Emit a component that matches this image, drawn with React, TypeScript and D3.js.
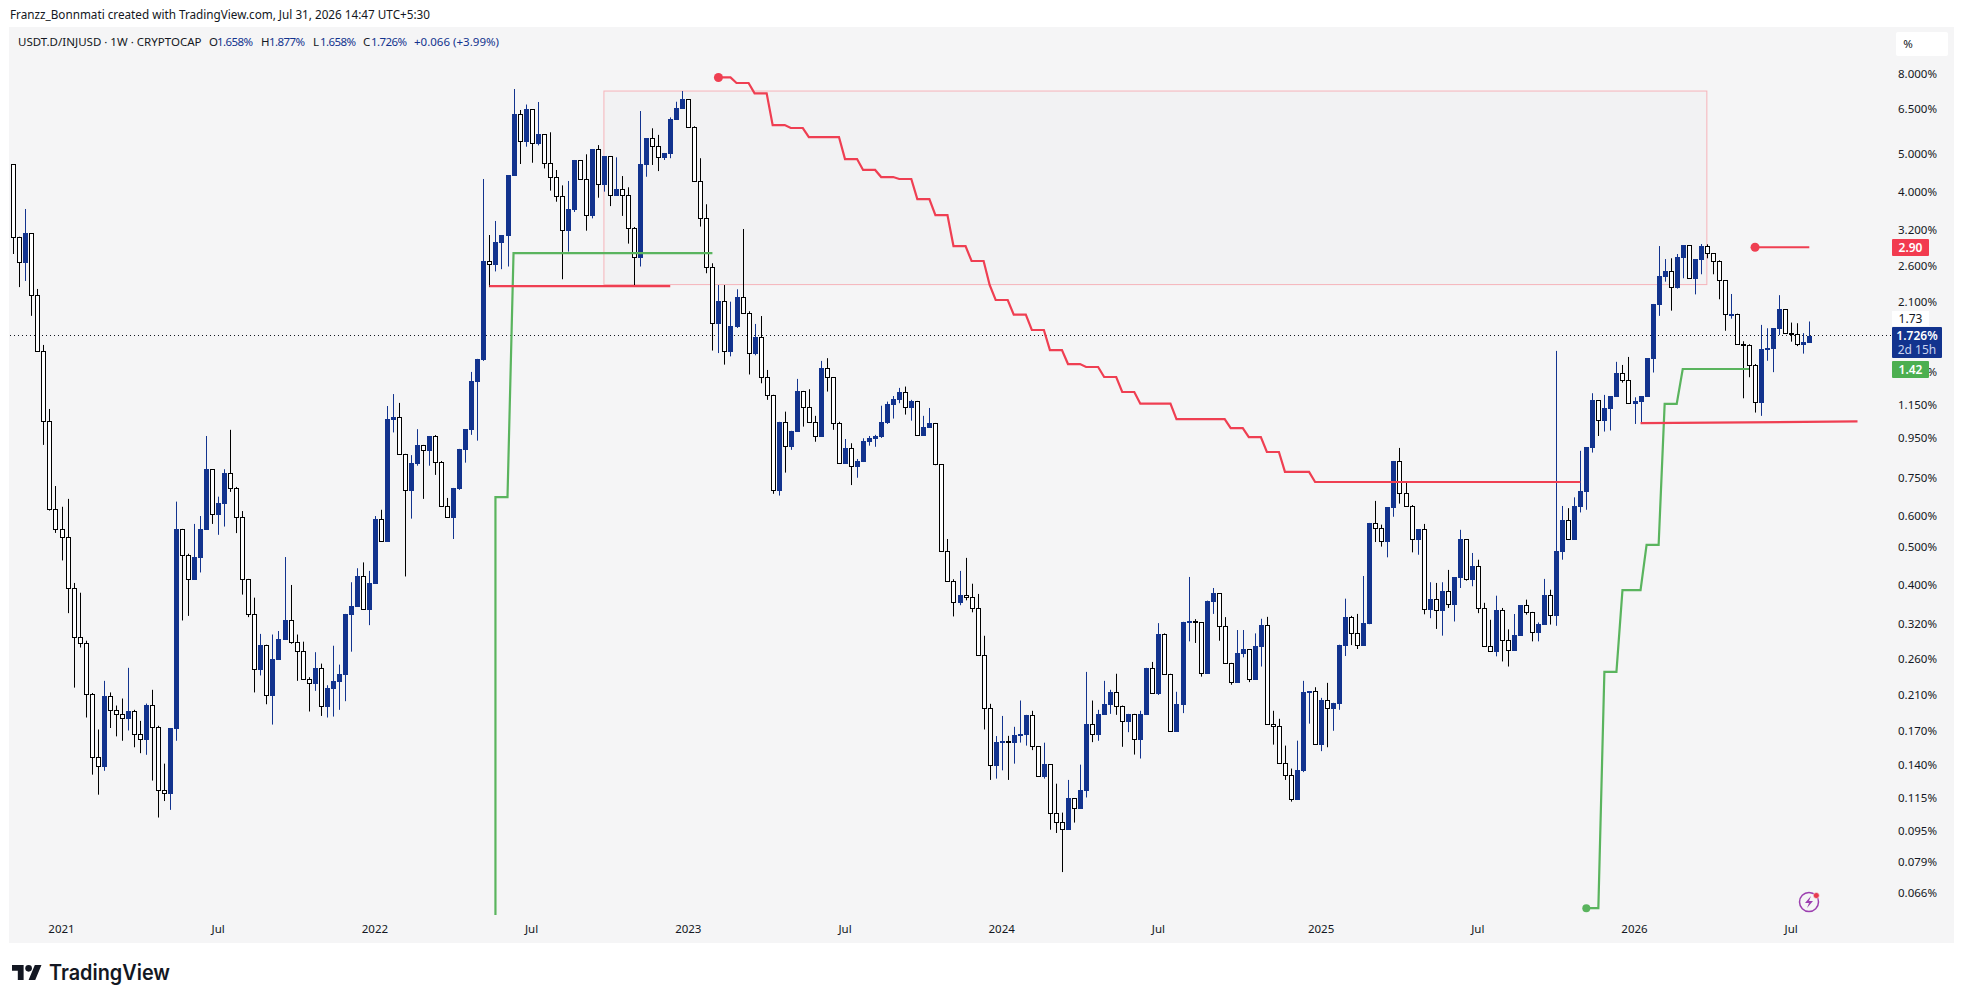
import * as d3 from "d3";

const WIDTH = 1963;
const HEIGHT = 1003;

// weekly candles, values in %
const firstOpen = 4.722;
const closes = [
  3.083, 2.664, 3.147, 2.193, 1.577, 1.047, 0.626, 0.557, 0.532, 0.394,
  0.2955, 0.286, 0.2116, 0.1463, 0.1386, 0.2098, 0.1926, 0.1882, 0.1838, 0.1919,
  0.1677, 0.1627, 0.1991, 0.175, 0.1206, 0.1187, 0.173, 0.557, 0.4787, 0.416,
  0.4723, 0.556, 0.7916, 0.606, 0.647, 0.7745, 0.707, 0.596, 0.4147, 0.3377,
  0.245, 0.282, 0.2106, 0.26, 0.2922, 0.3263, 0.2863, 0.272, 0.2309, 0.2264,
  0.2464, 0.197, 0.2192, 0.2283, 0.2379, 0.3383, 0.3545, 0.4219, 0.3484, 0.405,
  0.5894, 0.52, 1.059, 1.07, 0.8645, 0.6988, 0.818, 0.909, 0.883, 0.958,
  0.823, 0.638, 0.598, 0.707, 0.89, 0.999, 1.323, 1.505, 2.671, 2.633,
  2.991, 3.115, 4.427, 6.329, 5.394, 6.505, 5.332, 5.629, 4.757, 4.382,
  3.907, 3.202, 3.621, 4.834, 4.317, 3.496, 5.156, 4.193, 4.948, 3.93,
  4.071, 3.944, 3.24, 2.733, 4.713, 5.489, 5.254, 4.926, 5.037, 6.135,
  6.554, 6.91, 5.873, 4.283, 3.447, 2.586, 1.858, 2.113, 1.583, 1.827,
  2.162, 1.976, 1.559, 1.714, 1.354, 1.218, 0.6988, 1.041, 0.904, 0.9875,
  1.248, 1.136, 1.041, 0.962, 1.429, 1.354, 1.038, 0.818, 0.895, 0.804,
  0.828, 0.931, 0.949, 0.958, 1.041, 1.156, 1.193, 1.24, 1.139, 1.177,
  0.964, 1.011, 1.035, 0.813, 0.49, 0.41, 0.363, 0.378, 0.373, 0.3505,
  0.2655, 0.1945, 0.1397, 0.1599, 0.1608, 0.16, 0.1664, 0.1677, 0.1869, 0.1561,
  0.1308, 0.1405, 0.1052, 0.09995, 0.096, 0.115, 0.1085, 0.1206, 0.178, 0.1677,
  0.1882, 0.1999, 0.2145, 0.1975, 0.1806, 0.1882, 0.1627, 0.1885, 0.2468, 0.213,
  0.3011, 0.2379, 0.1707, 0.1999, 0.3232, 0.3245, 0.3219, 0.2388, 0.3659, 0.3832,
  0.3157, 0.2541, 0.2277, 0.2688, 0.2751, 0.2317, 0.2804, 0.3163, 0.1777, 0.1753,
  0.1417, 0.1315, 0.1144, 0.136, 0.2145, 0.2149, 0.158, 0.205, 0.1945, 0.2011,
  0.2826, 0.3327, 0.3032, 0.2816, 0.3213, 0.5768, 0.5614, 0.52, 0.6328, 0.8292,
  0.6889, 0.638, 0.5241, 0.556, 0.3476, 0.3695, 0.3463, 0.3871, 0.3588, 0.4195,
  0.525, 0.416, 0.4482, 0.3505, 0.2797, 0.272, 0.3463, 0.2902, 0.2735, 0.2988,
  0.3566, 0.3425, 0.304, 0.3187, 0.3787, 0.3362, 0.49, 0.587, 0.526, 0.637,
  0.696, 0.899, 1.186, 1.055, 1.131, 1.213, 1.386, 1.33, 1.167, 1.179,
  1.213, 1.514, 2.08, 2.45, 2.523, 2.293, 2.733, 2.933, 2.418, 2.702,
  2.925, 2.8, 2.671, 2.39, 1.958, 1.965, 1.643, 1.639, 1.453, 1.17,
  1.595, 1.607, 1.804, 2.016, 1.757, 1.741, 1.643, 1.663, 1.726,
];
const highs = [
  4.722, 3.083, 3.628, 3.147, 2.271, 1.636, 1.1245, 0.716, 0.634, 0.664,
  0.4058, 0.3832, 0.2893, 0.213, 0.172, 0.2287, 0.2137, 0.1979, 0.2062, 0.2468,
  0.193, 0.1809, 0.2002, 0.217, 0.1758, 0.1408, 0.173, 0.6535, 0.557, 0.4816,
  0.5734, 0.6006, 0.9598, 0.787, 0.6727, 0.79, 0.995, 0.7122, 0.6183, 0.4155,
  0.3723, 0.3011, 0.2826, 0.3, 0.3062, 0.4723, 0.401, 0.3, 0.2877, 0.2336,
  0.2705, 0.253, 0.2229, 0.2809, 0.2515, 0.3385, 0.4075, 0.4423, 0.4577, 0.4355,
  0.6006, 0.623, 1.144, 1.227, 1.165, 0.8645, 0.858, 0.999, 0.911, 0.9598,
  0.965, 0.829, 0.6677, 0.708, 0.89, 0.999, 1.397, 1.508, 4.325, 3.115,
  3.382, 3.115, 4.427, 7.327, 6.479, 6.69, 6.505, 6.79, 5.62, 5.686,
  4.559, 4.166, 4.275, 4.834, 4.826, 4.998, 5.156, 5.275, 4.948, 4.91,
  4.91, 4.4, 4.12, 3.265, 6.44, 5.498, 5.82, 5.6, 5.037, 6.205,
  6.8, 7.24, 6.91, 5.89, 4.885, 3.73, 2.64, 2.324, 2.324, 2.108,
  2.267, 3.227, 1.993, 1.85, 1.938, 1.413, 1.222, 1.043, 1.107, 0.9893,
  1.341, 1.25, 1.262, 1.08, 1.49, 1.514, 1.356, 1.043, 0.943, 0.92,
  0.839, 0.947, 0.9598, 0.9662, 1.146, 1.174, 1.213, 1.272, 1.282, 1.186,
  1.179, 1.08, 1.131, 1.036, 0.8145, 0.525, 0.4147, 0.4355, 0.47, 0.404,
  0.3805, 0.2978, 0.1999, 0.1655, 0.1862, 0.1657, 0.1747, 0.2038, 0.1874, 0.1919,
  0.1561, 0.1592, 0.1405, 0.1252, 0.1057, 0.128, 0.1148, 0.14, 0.241, 0.2038,
  0.193, 0.2287, 0.217, 0.2384, 0.1979, 0.1885, 0.1885, 0.1919, 0.2468, 0.2555,
  0.3207, 0.302, 0.2384, 0.2145, 0.3232, 0.4203, 0.3283, 0.3215, 0.3659, 0.394,
  0.3825, 0.3322, 0.2541, 0.308, 0.308, 0.2756, 0.302, 0.329, 0.3327, 0.1919,
  0.1831, 0.1565, 0.1368, 0.1611, 0.2287, 0.2149, 0.2203, 0.207, 0.226, 0.2011,
  0.2826, 0.3701, 0.3346, 0.3385, 0.4227, 0.5768, 0.6562, 0.571, 0.6328, 0.8292,
  0.895, 0.7347, 0.6405, 0.556, 0.5734, 0.4075, 0.4058, 0.4075, 0.438, 0.4195,
  0.554, 0.5241, 0.4837, 0.465, 0.3612, 0.327, 0.3766, 0.3505, 0.3092, 0.3383,
  0.3566, 0.368, 0.3425, 0.3219, 0.4155, 0.39, 1.58, 0.637, 0.629, 0.67,
  0.88, 0.899, 1.233, 1.177, 1.221, 1.213, 1.482, 1.455, 1.525, 1.204,
  1.213, 1.514, 2.08, 2.92, 2.706, 2.718, 2.787, 2.933, 2.933, 2.702,
  2.955, 2.95, 2.8, 2.686, 2.39, 2.205, 1.965, 1.672, 1.643, 1.463,
  1.84, 1.804, 1.804, 2.19, 2.016, 1.865, 1.858, 1.753, 1.877,
];
const lows = [
  2.787, 2.296, 2.38, 1.94, 1.577, 0.911, 0.62, 0.544, 0.463, 0.34,
  0.2198, 0.278, 0.1845, 0.132, 0.1174, 0.135, 0.1735, 0.1652, 0.161, 0.171,
  0.155, 0.1497, 0.1483, 0.1275, 0.1027, 0.1131, 0.1074, 0.161, 0.3257, 0.3346,
  0.4165, 0.4315, 0.554, 0.5734, 0.538, 0.5646, 0.6918, 0.5434, 0.379, 0.3322,
  0.2137, 0.236, 0.1994, 0.177, 0.259, 0.291, 0.2842, 0.2287, 0.23, 0.1911,
  0.2157, 0.1862, 0.1845, 0.1855, 0.193, 0.203, 0.2713, 0.3552, 0.347, 0.3169,
  0.4058, 0.519, 0.522, 0.98, 0.8645, 0.4215, 0.5915, 0.8065, 0.664, 0.8065,
  0.7642, 0.637, 0.598, 0.525, 0.7, 0.821, 0.9662, 0.934, 1.49, 2.296,
  2.517, 2.55, 2.59, 4.427, 4.722, 5.226, 4.757, 5.266, 4.6, 4.04,
  3.786, 2.404, 2.826, 3.565, 4.317, 3.195, 3.434, 3.876, 4.016, 3.69,
  3.93, 3.484, 2.962, 2.324, 2.59, 4.382, 4.695, 4.53, 4.834, 4.885,
  6.11, 6.554, 5.873, 4.275, 3.273, 2.49, 1.583, 1.56, 1.458, 1.53,
  1.807, 1.973, 1.376, 1.54, 1.307, 1.186, 0.684, 0.677, 0.7745, 0.885,
  0.9893, 1.014, 1.041, 0.928, 0.9598, 1.245, 0.995, 0.8145, 0.8145, 0.72,
  0.7516, 0.824, 0.907, 0.901, 0.949, 1.03, 1.063, 1.163, 1.088, 1.05,
  0.9598, 0.9598, 1.007, 0.809, 0.49, 0.41, 0.3335, 0.3562, 0.3665, 0.3417,
  0.2656, 0.172, 0.128, 0.129, 0.1354, 0.128, 0.1408, 0.1593, 0.1565, 0.1524,
  0.1308, 0.129, 0.0956, 0.0938, 0.0746, 0.0956, 0.0997, 0.1082, 0.1155, 0.1597,
  0.161, 0.1874, 0.1885, 0.1874, 0.1554, 0.1693, 0.1485, 0.1451, 0.1876, 0.213,
  0.2105, 0.2379, 0.1707, 0.1713, 0.1893, 0.2882, 0.2855, 0.2344, 0.2388, 0.3385,
  0.2893, 0.2541, 0.2235, 0.2277, 0.2625, 0.227, 0.2313, 0.2487, 0.1777, 0.1574,
  0.1408, 0.128, 0.1127, 0.1141, 0.134, 0.178, 0.158, 0.1515, 0.155, 0.1707,
  0.193, 0.2645, 0.282, 0.2756, 0.2816, 0.3187, 0.5157, 0.502, 0.4715, 0.598,
  0.646, 0.637, 0.4854, 0.4787, 0.3377, 0.3301, 0.31, 0.298, 0.3505, 0.3238,
  0.394, 0.4113, 0.398, 0.34, 0.2797, 0.272, 0.264, 0.2562, 0.2487, 0.273,
  0.298, 0.337, 0.2882, 0.2882, 0.3187, 0.318, 0.3157, 0.465, 0.525, 0.526,
  0.6133, 0.623, 0.871, 0.9598, 0.985, 0.991, 1.207, 1.312, 1.167, 1.03,
  1.03, 1.207, 1.392, 1.94, 2.37, 2.0, 2.275, 2.418, 2.418, 2.2,
  2.475, 2.718, 2.475, 2.138, 1.778, 1.908, 1.636, 1.197, 1.354, 1.101,
  1.08, 1.491, 1.395, 1.734, 1.744, 1.668, 1.625, 1.555, 1.658,
];

const firstWeek = new Date(Date.UTC(2020, 10, 9));
const lastWeek = new Date(Date.UTC(2026, 6, 27));
const weekMs = 7 * 24 * 3600 * 1000;

// price scale labels
const priceTicks = [
  8, 6.5, 5, 4, 3.2, 2.6, 2.1, 1.15, 0.95, 0.75, 0.6, 0.5, 0.4, 0.32, 0.26, 0.21, 0.17, 0.14,
  0.115, 0.095, 0.079, 0.066,
];
// this tick sits under the green 1.42 label, only its % sign shows
const coveredTick = 1.4;
const timeTicks: [Date, string][] = [
  [new Date(Date.UTC(2021, 0, 4)), "2021"],
  [new Date(Date.UTC(2021, 6, 5)), "Jul"],
  [new Date(Date.UTC(2022, 0, 3)), "2022"],
  [new Date(Date.UTC(2022, 6, 4)), "Jul"],
  [new Date(Date.UTC(2023, 0, 2)), "2023"],
  [new Date(Date.UTC(2023, 6, 3)), "Jul"],
  [new Date(Date.UTC(2024, 0, 1)), "2024"],
  [new Date(Date.UTC(2024, 6, 1)), "Jul"],
  [new Date(Date.UTC(2025, 0, 6)), "2025"],
  [new Date(Date.UTC(2025, 6, 7)), "Jul"],
  [new Date(Date.UTC(2026, 0, 5)), "2026"],
  [new Date(Date.UTC(2026, 6, 6)), "Jul"],
];

// trailing stops, week index where each step starts + its level
const redStepWeeks = [
  117, 120, 123, 126, 129, 132, 138, 141, 144, 147, 150, 153, 156, 159, 162, 163, 166, 169, 172, 175,
  178, 181, 184, 187, 193, 202, 205, 208, 211, 216,
];
const redStepLevels = [
  7.84, 7.59, 7.14, 5.93, 5.83, 5.53, 4.86, 4.56, 4.375, 4.325, 3.846, 3.5, 2.92, 2.675, 2.324, 2.129,
  1.953, 1.786, 1.588, 1.463, 1.438, 1.356, 1.242, 1.16, 1.06, 1.005, 0.954, 0.874, 0.778, 0.733,
];
const redStepEnd = 260;
const greenAWeeks = [80, 80, 83];
const greenALevels = [0.058, 0.671, 2.803];
const greenAEnd = 116;
const greenBWeeks = [261, 264, 267, 271, 274, 277];
const greenBLevels = [0.0604, 0.241, 0.389, 0.507, 1.158, 1.421];
const greenBEnd = 288;

// flat levels: [start week, end week, start level, end level]
const supportFlat = [79, 109, 2.31, 2.31];
const lowerFlat = [270, 306, 1.035, 1.045];
const upperFlat = [289, 298, 2.9, 2.9];
const boxWeeks = [98, 281];
const boxLevels = [7.24, 2.33];
const lastPrice = 1.726;

const RED = "#ef3f52";
const GREEN = "#5ab45e";
const BLUE = "#12338e";
const INK = "#131722";
const FONT = "'Noto Sans', sans-serif";

const weekDate = (i: number) => new Date(firstWeek.getTime() + i * weekMs);

function stairPoints(weeks: number[], levels: number[], end: number): [number, number][] {
  const pts: [number, number][] = [];
  weeks.forEach((w, k) => {
    const next = k + 1 < weeks.length ? weeks[k + 1] - 1 : end;
    pts.push([w, levels[k]], [Math.max(w, next), levels[k]]);
  });
  return pts;
}

export default function App() {
  const x = d3.scaleUtc().domain([firstWeek, lastWeek]).range([13.3, 1809.3]);
  const y = d3.scaleLog().domain([8, 0.066]).range([74, 893]);
  const line = d3
    .line<[number, number]>()
    .x((d) => x(weekDate(d[0])))
    .y((d) => y(d[1]));

  const candles = closes.map((c, i) => {
    const o = i === 0 ? firstOpen : closes[i - 1];
    return { i, o, c, h: highs[i], l: lows[i], up: c >= o };
  });

  const flats = [supportFlat, lowerFlat, upperFlat];
  const lastY = Math.round(y(lastPrice)) - 0.5;

  return (
    <svg
      width={WIDTH}
      height={HEIGHT}
      viewBox={`0 0 ${WIDTH} ${HEIGHT}`}
      style={{ position: "absolute", left: 0, top: 0, display: "block", background: "#fff" }}
      fontFamily={FONT}
    >
      <text x={10} y={19} fontSize={12} fill={INK} textLength={420} lengthAdjust="spacingAndGlyphs">
        Franzz_Bonnmati created with TradingView.com, Jul 31, 2026 14:47 UTC+5:30
      </text>
      <rect x={9} y={27} width={1945} height={916} fill="#f5f5f6" />

      {/* legend */}
      <g fontSize={11.5}>
        <text x={18} y={45.5} fill={INK} textLength={183.5} lengthAdjust="spacingAndGlyphs">
          USDT.D/INJUSD · 1W · CRYPTOCAP
        </text>
        <text x={209} y={45.5} fill={INK}>O</text>
        <text x={217} y={45.5} fill={BLUE} textLength={36}>1.658%</text>
        <text x={261} y={45.5} fill={INK}>H</text>
        <text x={269} y={45.5} fill={BLUE} textLength={36}>1.877%</text>
        <text x={313} y={45.5} fill={INK}>L</text>
        <text x={320} y={45.5} fill={BLUE} textLength={36}>1.658%</text>
        <text x={363} y={45.5} fill={INK}>C</text>
        <text x={371} y={45.5} fill={BLUE} textLength={36}>1.726%</text>
        <text x={414} y={45.5} fill={BLUE} textLength={85}>+0.066 (+3.99%)</text>
      </g>

      {/* drawn box */}
      <rect
        x={x(weekDate(boxWeeks[0]))}
        y={y(boxLevels[0])}
        width={x(weekDate(boxWeeks[1])) - x(weekDate(boxWeeks[0]))}
        height={y(boxLevels[1]) - y(boxLevels[0])}
        fill="#f2f2f3"
        stroke="#f6b4ba"
        strokeWidth={1}
      />

      <line x1={10} x2={1892} y1={lastY} y2={lastY} stroke={INK} strokeDasharray="1 3" strokeWidth={1} />

      {/* candles */}
      <g>
        {candles.map((d) => {
          const cx = Math.round(x(weekDate(d.i))) + 0.5;
          const top = Math.round(y(Math.max(d.o, d.c))) + 0.5;
          const bottom = Math.round(y(Math.min(d.o, d.c))) + 0.5;
          const colour = d.up ? BLUE : "#000";
          return (
            <g key={d.i}>
              <line x1={cx} x2={cx} y1={y(d.h)} y2={y(d.l)} stroke={colour} strokeWidth={1} />
              <rect
                x={cx - 2}
                y={top}
                width={4}
                height={Math.max(bottom - top, 1)}
                fill={d.up ? BLUE : "#fff"}
                stroke={colour}
                strokeWidth={1}
              />
            </g>
          );
        })}
      </g>

      {/* trailing lines */}
      <path d={line(stairPoints(greenAWeeks, greenALevels, greenAEnd)) ?? ""} fill="none" stroke={GREEN} strokeWidth={2.2} />
      <path d={line(stairPoints(greenBWeeks, greenBLevels, greenBEnd)) ?? ""} fill="none" stroke={GREEN} strokeWidth={2.2} />
      <path d={line(stairPoints(redStepWeeks, redStepLevels, redStepEnd)) ?? ""} fill="none" stroke={RED} strokeWidth={2.2} />
      {flats.map((f, k) => (
        <path
          key={k}
          d={line([[f[0], f[2]], [f[1], f[3]]]) ?? ""}
          fill="none"
          stroke={RED}
          strokeWidth={2.2}
        />
      ))}
      <circle cx={x(weekDate(redStepWeeks[0]))} cy={y(redStepLevels[0])} r={4.5} fill={RED} />
      <circle cx={x(weekDate(upperFlat[0]))} cy={y(upperFlat[2])} r={4.5} fill={RED} />
      <circle cx={x(weekDate(greenBWeeks[0]))} cy={y(greenBLevels[0])} r={4} fill={GREEN} />

      {/* time axis */}
      <g fontSize={11.5} fill={INK} textAnchor="middle">
        {timeTicks.map(([date, label]) => (
          <text key={date.getTime()} x={x(date)} y={933}>
            {label}
          </text>
        ))}
      </g>

      {/* price axis */}
      <g fontSize={11.5} fill={INK} textAnchor="end">
        {priceTicks.map((t) => (
          <text key={t} x={1937} y={y(t) + 4}>
            {t.toFixed(3)}%
          </text>
        ))}
        <text x={1937} y={y(coveredTick) + 4}>%</text>
      </g>
      <rect x={1896} y={32} width={52} height={24} rx={2} fill="#fff" />
      <text x={1908} y={48} fontSize={11.5} fill={INK} textAnchor="middle">%</text>

      {/* price labels */}
      <rect x={1892} y={239} width={37} height={17} rx={1} fill="#f23b4f" />
      <text x={1910.5} y={252} fontSize={12} fontWeight={600} fill="#fff" textAnchor="middle">2.90</text>
      <rect x={1892} y={311} width={37} height={15} fill="#fff" />
      <text x={1910.5} y={323} fontSize={12} fill={INK} textAnchor="middle">1.73</text>
      <rect x={1892} y={327} width={50} height={31} rx={1} fill={BLUE} />
      <text x={1917} y={340} fontSize={12} fontWeight={600} fill="#fff" textAnchor="middle">1.726%</text>
      <text x={1917} y={354} fontSize={12} fill="#c9d3f0" textAnchor="middle">2d 15h</text>
      <rect x={1892} y={361} width={37} height={17} rx={1} fill="#4caf50" />
      <text x={1910.5} y={374} fontSize={12} fontWeight={600} fill="#fff" textAnchor="middle">1.42</text>

      {/* lightning badge */}
      <circle cx={1809} cy={902} r={9.5} fill="none" stroke="#9c3fb0" strokeWidth={1.5} />
      <path d="M1811 896 L1805 903 L1809 903 L1807 908 L1813 901 L1809 901 Z" fill="#9c3fb0" />
      <circle cx={1816.3} cy={895.5} r={3} fill="#e8394f" stroke="#f5f5f6" strokeWidth={0.6} />

      {/* TradingView mark */}
      <g transform="translate(12 961.7) scale(0.83)" fill={INK}>
        <path d="M14 22H7V11H0V4h14v18zM28 22h-8l7.5-18h8L28 22z" />
        <circle cx={20} cy={8} r={4} />
      </g>
      <text x={49} y={980} fontSize={21} fontWeight={600} fill={INK} textLength={121} lengthAdjust="spacingAndGlyphs" fontFamily="Inter, sans-serif">
        TradingView
      </text>
    </svg>
  );
}
